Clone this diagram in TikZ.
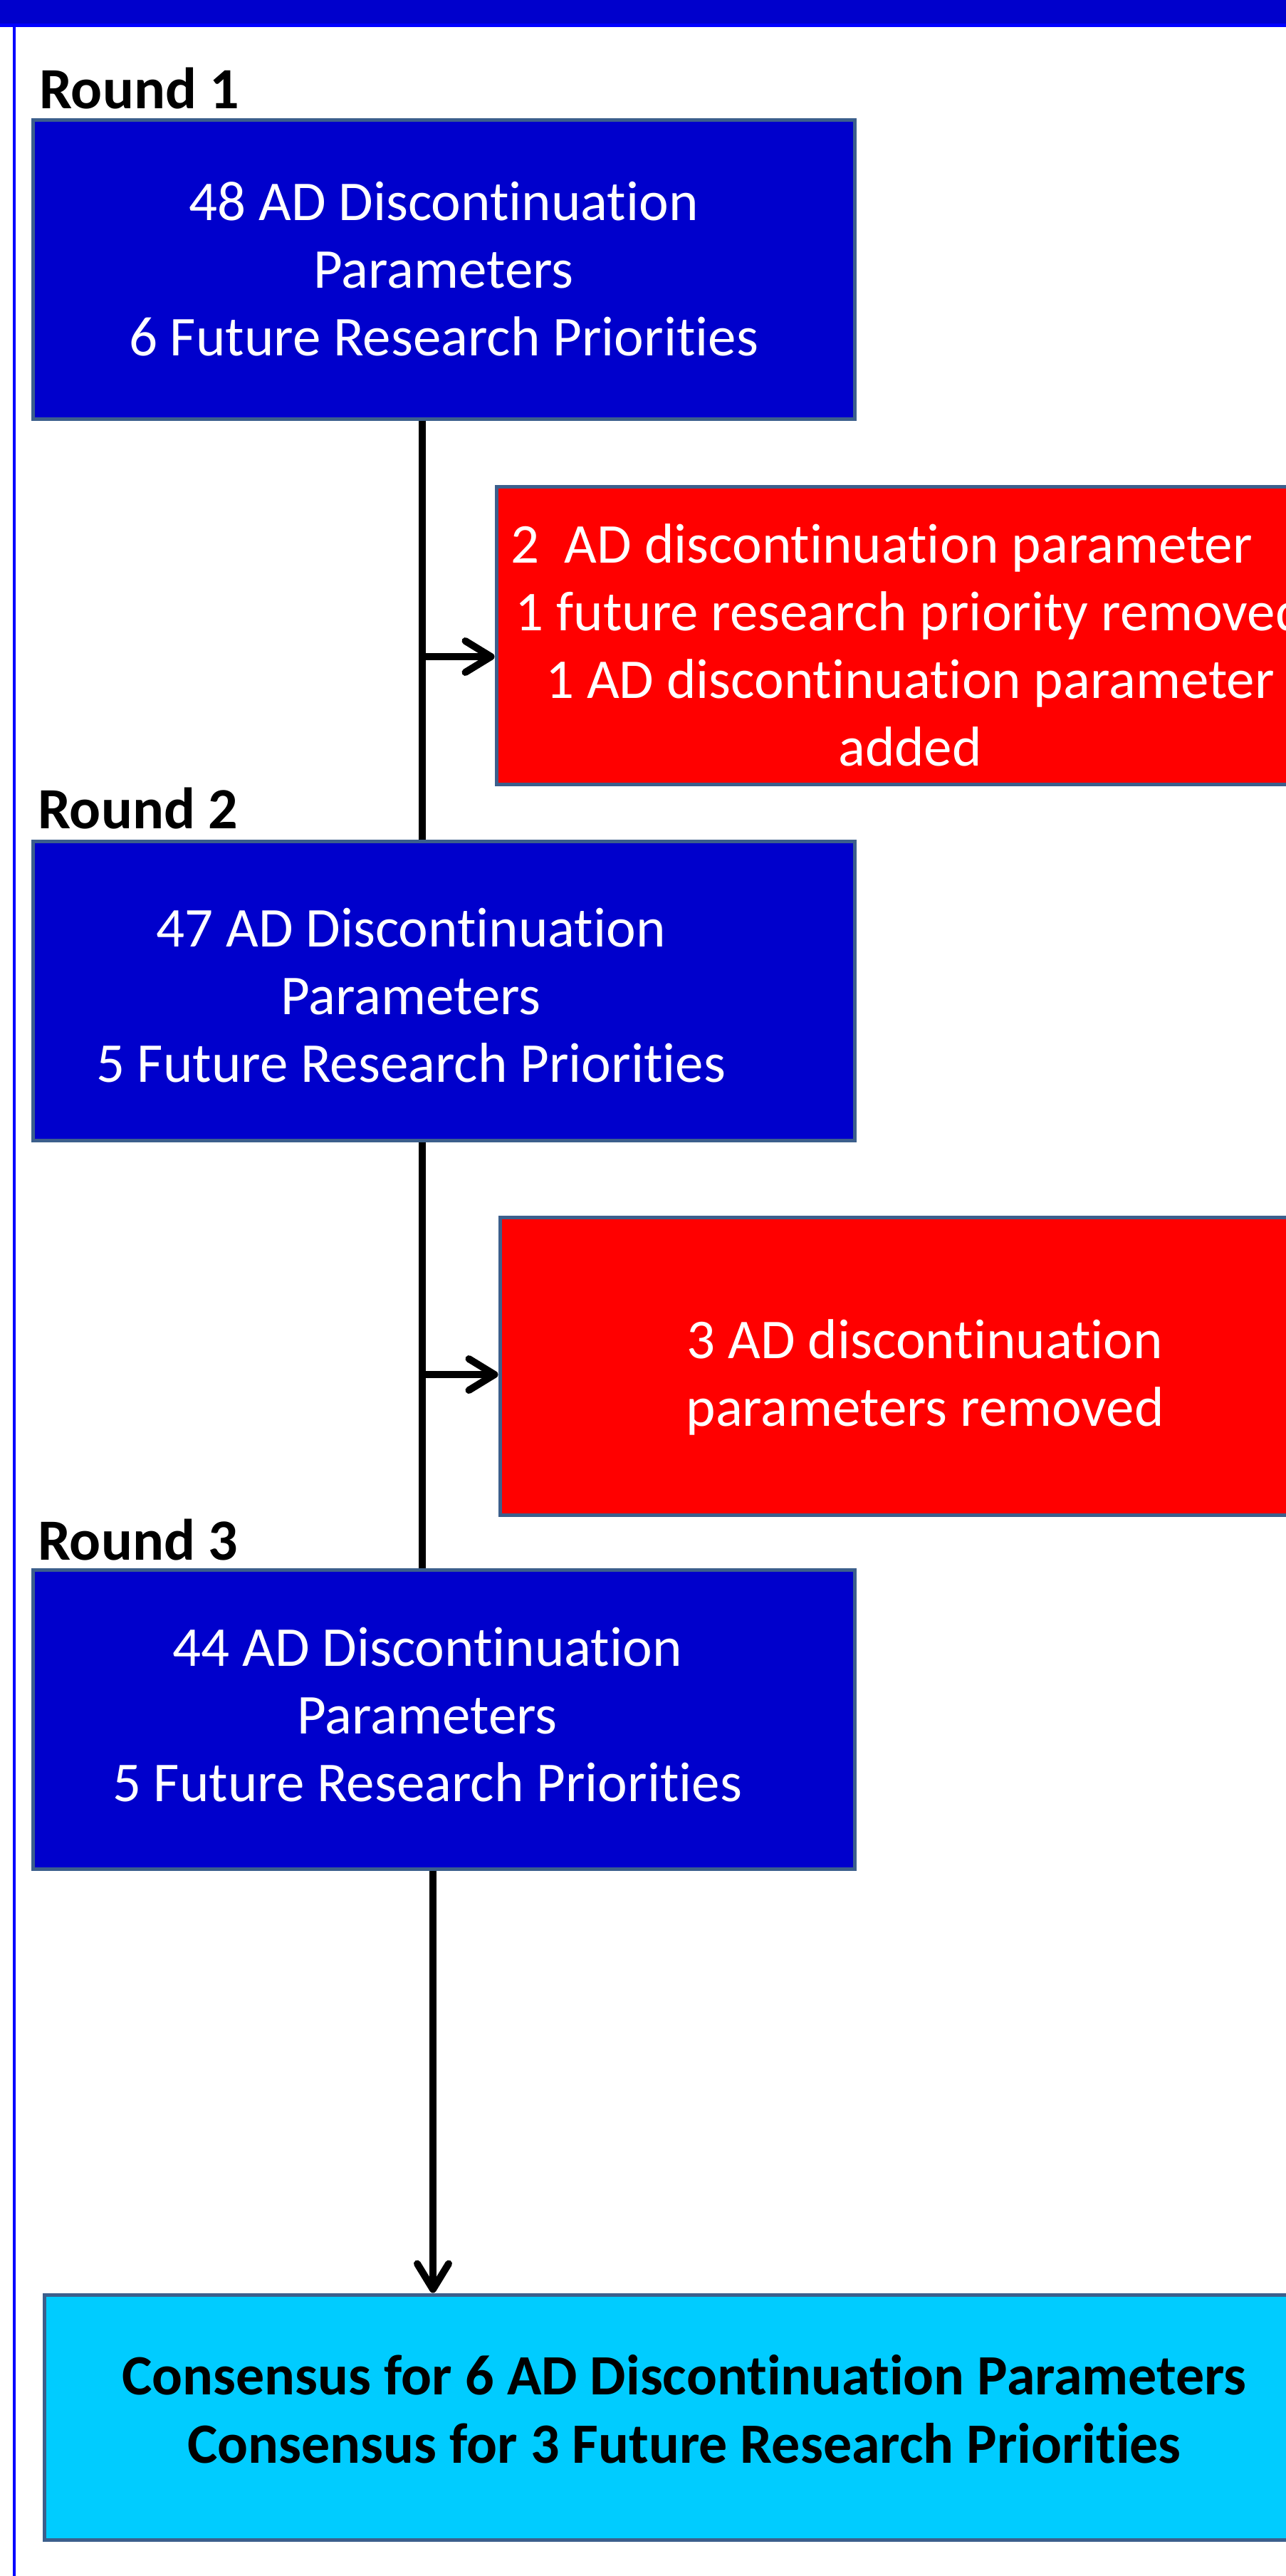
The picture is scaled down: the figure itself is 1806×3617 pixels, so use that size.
\documentclass[tikz,border=0pt]{standalone}
\usepackage{fontspec}
\setmainfont[Ligatures=NoCommon]{Carlito}
\usetikzlibrary{arrows.meta}
\definecolor{boxblue}{RGB}{0,0,204}
\definecolor{brightblue}{RGB}{0,0,255}
\definecolor{edge}{RGB}{60,95,140}
\definecolor{redbox}{RGB}{255,0,0}
\definecolor{cyanbox}{RGB}{0,204,255}
\tikzset{
  box/.style={draw=edge, line width=5pt, minimum width=#1, inner sep=0pt},
  bluebox/.style={box=1154pt, fill=boxblue, minimum height=420pt},
  redrect/.style={box=1170pt, fill=redbox, minimum height=418pt},
  txt/.style={text=white, align=center, inner sep=0pt, font=\fontsize{79}{95}\selectfont, anchor=base},
  roundlbl/.style={font=\bfseries\fontsize{82}{98}\selectfont, anchor=base west, inner sep=0pt},
  conn/.style={line width=10pt},
  arr/.style={line width=10pt, -{Straight Barb[length=36pt,width=44pt,round]}}
}
\begin{document}
\begin{tikzpicture}[x=1pt,y=-1pt]
\useasboundingbox (0,0) rectangle (1806,3617);
\clip (0,0) rectangle (1806,3617);
\fill[white] (0,0) rectangle (1806,3617);
% header band and frame
\fill[boxblue] (0,0) rectangle (1806,33);
\fill[brightblue] (0,33) rectangle (1806,38);
\fill[brightblue] (18,38) rectangle (22,3617);

% round labels
\node[roundlbl] (rl1) at (55,152) {Round 1};
\node[roundlbl] (rl2) at (53,1163) {Round 2};
\node[roundlbl] (rl3) at (53,2190) {Round 3};

% blue boxes
\node[bluebox] (b1) at (623,378) {};
\node[bluebox] (b2) at (623,1391) {};
\node[bluebox] (b3) at (623,2414) {};
\node[txt] (t1) at (623,499) {48 AD Discontinuation\\Parameters\\6 Future Research Priorities};
\node[txt] (t2) at (577,1519) {47 AD Discontinuation\\Parameters\\5 Future Research Priorities};
\node[txt] (t3) at (600,2529) {44 AD Discontinuation\\Parameters\\5 Future Research Priorities};

% red boxes
\node[redrect] (r1) at (1282,892) {};
\node[redrect] (r2) at (1287,1918) {};
\node[txt] (tr1) at (1278,1075) {2\ \ AD discontinuation parameter\hspace*{80pt}\\1 future research priority removed\\1 AD discontinuation parameter\\added};
\node[txt] (tr2) at (1299,2002) {3 AD discontinuation\\parameters removed};

% final box
\node[box=1798pt, fill=cyanbox, minimum height=344pt] (fin) at (961,3394) {};
\node[txt, text=black, font=\bfseries\fontsize{80}{96}\selectfont] (tf) at (961,3458) {Consensus for 6 AD Discontinuation Parameters\\Consensus for 3 Future Research Priorities};

% connectors
\coordinate (c1) at (593,0);
\coordinate (c3) at (608,0);
\coordinate (a1) at (593,922);
\coordinate (a2) at (593,1930);
\draw[conn] (b1.south -| c1) -- (b2.north -| c1);
\draw[conn] (b2.south -| c1) -- (b3.north -| c1);
\draw[arr] (a1) -- (r1.west |- a1);
\draw[arr] (a2) -- (r2.west |- a2);
\draw[arr] (b3.south -| c3) -- (fin.north -| c3);
\end{tikzpicture}
\end{document}
